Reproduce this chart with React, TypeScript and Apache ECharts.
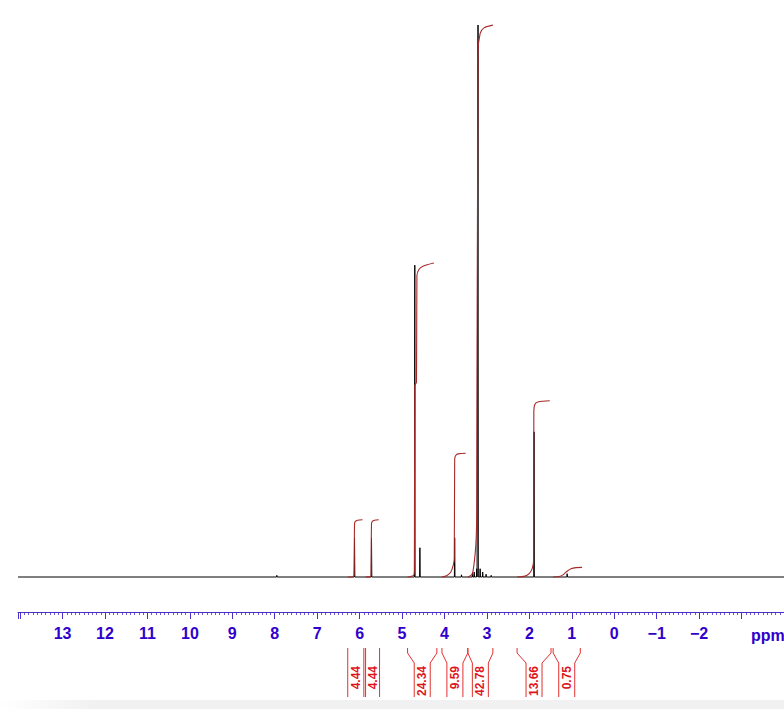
import React, { useEffect, useRef } from "react";
import * as echarts from "echarts";

// ---- axis (ppm) ----
const axisMinPpm = -4;
const axisMaxPpm = 14.05;
const shownTickValues = [13, 12, 11, 10, 9, 8, 7, 6, 5, 4, 3, 2, 1, 0, -1, -2];
const axisUnitLabel = "ppm";

// ---- spectrum peaks (ppm, relative intensity; tallest = 100) ----
const peakPpm = [7.95, 6.12, 5.72, 4.70, 4.58, 3.76, 3.60, 3.34, 3.30, 3.24, 3.21, 3.16, 3.10, 3.02, 2.90, 1.89, 1.11];
const peakHeight = [0.3, 7.1, 7.1, 56.5, 5.3, 7.1, 0.4, 0.7, 0.9, 1.5, 100, 1.5, 0.9, 0.5, 0.3, 26.3, 0.6];

// ---- integrals ----
const integralLabels = ["4.44", "4.44", "24.34", "9.59", "42.78", "13.66", "0.75"];
const integralValues = [4.44, 4.44, 24.34, 9.59, 42.78, 13.66, 0.75];
const integralStart = [6.28, 5.86, 4.87, 4.06, 3.45, 2.29, 1.44];
const integralEnd = [5.90, 5.53, 4.18, 3.45, 2.86, 1.49, 0.80];
// cumulative shape of each integral curve: [ppm, fraction of total]
const integralCurves: [number, number][][] = [
  [[6.28, 0], [6.15, 0.01], [6.13, 0.05], [6.12, 0.93], [6.10, 0.97], [6.05, 0.99], [5.93, 1]],
  [[5.86, 0], [5.74, 0.01], [5.73, 0.05], [5.72, 0.93], [5.70, 0.97], [5.65, 0.99], [5.55, 1]],
  [[4.87, 0], [4.73, 0.005], [4.71, 0.02], [4.70, 0.61], [4.66, 0.62], [4.65, 0.96], [4.60, 0.98], [4.51, 0.99], [4.25, 1]],
  [[4.06, 0], [3.95, 0.01], [3.85, 0.04], [3.79, 0.1], [3.77, 0.15], [3.76, 0.95], [3.74, 0.98], [3.68, 0.995], [3.50, 1]],
  [[3.45, 0], [3.35, 0.005], [3.31, 0.02], [3.26, 0.06], [3.24, 0.12], [3.21, 0.95], [3.16, 0.985], [3.07, 0.995], [2.86, 1]],
  [[2.29, 0], [2.10, 0.005], [2.00, 0.02], [1.93, 0.05], [1.90, 0.1], [1.895, 0.94], [1.87, 0.98], [1.80, 0.993], [1.52, 1]],
  [[1.44, 0], [1.30, 0.05], [1.20, 0.25], [1.11, 0.6], [1.02, 0.85], [0.90, 0.97], [0.76, 1]],
];
// intensity units per integral unit (display scaling of integral curves)
const integralScale = 2.337;

const AXIS_COLOR = "#4a30c8";
const LABEL_COLOR = "#3000cc";
const INTEGRAL_COLOR = "#a82828";
const BRACKET_COLOR = "#e23030";
const FONT = "Liberation Sans, Arial, sans-serif";

export default function App() {
  const ref = useRef<HTMLDivElement>(null);

  useEffect(() => {
    if (!ref.current) return;
    const chart = echarts.init(ref.current, null, { renderer: "svg" });

    const halfWidth = 0.007;
    const spectrum: [number, number][] = [[axisMaxPpm, 0]];
    peakPpm
      .map((p, i) => [p, peakHeight[i]] as [number, number])
      .sort((a, b) => b[0] - a[0])
      .forEach(([p, h]) => {
        spectrum.push([p + halfWidth, 0], [p, h], [p - halfWidth, 0]);
      });
    spectrum.push([axisMinPpm, 0]);

    const integralSeries = integralCurves.map((curve, i) => ({
      type: "line",
      data: curve.map(([p, f]) => [p, f * integralValues[i] * integralScale]),
      showSymbol: false,
      symbol: "none",
      smooth: 0.3,
      z: 3,
      lineStyle: { color: INTEGRAL_COLOR, width: 1.1 },
      silent: true,
    }));

    chart.setOption({
      animation: false,
      backgroundColor: "#ffffff",
      grid: {
        left: 18,
        top: 0,
        right: 0,
        height: 612,
        containLabel: false,
      },
      xAxis: {
        type: "value",
        inverse: true,
        min: axisMinPpm,
        max: axisMaxPpm,
        interval: 1,
        splitLine: { show: false },
        axisLine: { show: true, onZero: false, lineStyle: { color: AXIS_COLOR, width: 1 } },
        axisTick: { show: true, length: 7, inside: false, lineStyle: { color: AXIS_COLOR, width: 1 } },
        minorTick: { show: true, splitNumber: 10, length: 3, lineStyle: { color: AXIS_COLOR, width: 0.8 } },
        axisLabel: {
          show: true,
          margin: 13,
          fontSize: 16,
          fontWeight: "bold",
          fontFamily: FONT,
          color: LABEL_COLOR,
          showMinLabel: false,
          showMaxLabel: false,
          formatter: (v: number) => {
            const r = Math.round(v);
            if (Math.abs(v - r) > 1e-6) return "";
            if (!shownTickValues.includes(r)) return "";
            return r < 0 ? "\u2212" + Math.abs(r) : String(r);
          },
        },
      },
      yAxis: {
        type: "value",
        min: -6.34,
        max: 104.53,
        show: false,
      },
      series: [
        {
          type: "line",
          data: spectrum,
          showSymbol: false,
          symbol: "none",
          z: 2,
          lineStyle: { color: "#000000", width: 1 },
          silent: true,
        },
        ...integralSeries,
      ],
    });

    // brackets and labels for integrals, positioned from the axis scale
    const graphics: any[] = [];
    const topY = 648;
    const shoulderY = 653;
    const neckY = 663;
    const bottomY = 697;
    const halfNeck = 8;
    integralLabels.forEach((label, i) => {
      const xl = chart.convertToPixel({ xAxisIndex: 0 }, integralStart[i]) as number;
      const xr = chart.convertToPixel({ xAxisIndex: 0 }, integralEnd[i]) as number;
      const cx = (xl + xr) / 2;
      const narrow = xr - xl <= 2 * halfNeck + 1;
      const leftPts = narrow
        ? [[xl, topY], [xl, bottomY]]
        : [[xl, topY], [xl, shoulderY], [cx - halfNeck, neckY], [cx - halfNeck, bottomY]];
      const rightPts = narrow
        ? [[xr, topY], [xr, bottomY]]
        : [[xr, topY], [xr, shoulderY], [cx + halfNeck, neckY], [cx + halfNeck, bottomY]];
      graphics.push({
        type: "polyline",
        shape: { points: leftPts },
        style: { stroke: BRACKET_COLOR, lineWidth: 1, fill: null },
        silent: true,
      });
      graphics.push({
        type: "polyline",
        shape: { points: rightPts },
        style: { stroke: BRACKET_COLOR, lineWidth: 1, fill: null },
        silent: true,
      });
      graphics.push({
        type: "text",
        x: cx,
        y: 666,
        rotation: Math.PI / 2,
        style: {
          text: label,
          fill: "#e0141c",
          fontSize: 12,
          fontWeight: "bold",
          fontFamily: FONT,
          align: "right",
          verticalAlign: "middle",
        },
        silent: true,
      });
    });
    graphics.push({
      type: "text",
      x: 751,
      y: 635,
      style: {
        text: axisUnitLabel,
        fill: LABEL_COLOR,
        fontSize: 16,
        fontWeight: "bold",
        fontFamily: FONT,
        align: "left",
        verticalAlign: "middle",
      },
      silent: true,
    });
    graphics.push({
      type: "rect",
      shape: { x: 0, y: 700, width: 784, height: 9 },
      style: {
        fill: new echarts.graphic.LinearGradient(0, 0, 1, 0, [
          { offset: 0, color: "#ffffff" },
          { offset: 0.12, color: "#f1f1f1" },
          { offset: 1, color: "#f1f1f1" },
        ]),
      },
      z: -1,
      silent: true,
    });
    chart.setOption({ graphic: { elements: graphics } });

    return () => chart.dispose();
  }, []);

  return (
    <div
      ref={ref}
      style={{ position: "fixed", left: 0, top: 0, width: 784, height: 709, background: "#fff" }}
    />
  );
}
